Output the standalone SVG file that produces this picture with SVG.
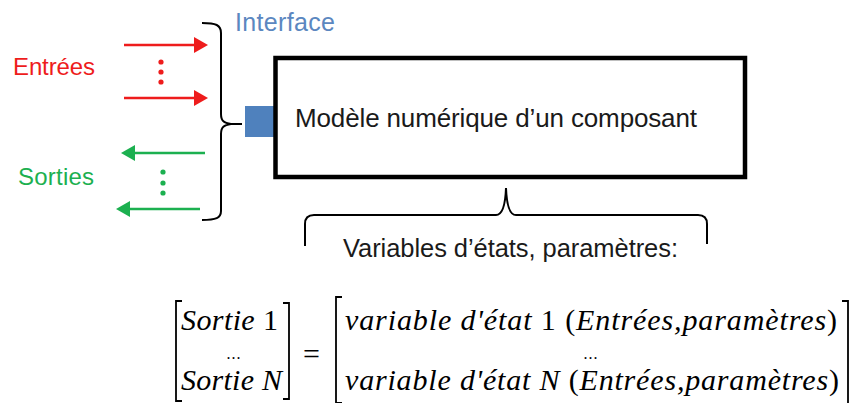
<svg xmlns="http://www.w3.org/2000/svg" width="851" height="403" viewBox="0 0 851 403">
  <defs>
    <style>
      .sans { font-family: "Liberation Sans", Arial, sans-serif; }
      .math { font-family: "Liberation Serif", "Times New Roman", serif; font-style: italic; font-size: 30px; fill: #000; }
      .up { font-style: normal; }
      .dots { font-family: "Liberation Serif", "Times New Roman", serif; font-size: 16px; letter-spacing: 1px; fill: #000; }
      .brace { fill: none; stroke: #000; stroke-width: 2; }
      .bracket { fill: none; stroke: #000; stroke-width: 1.8; }
      .red { stroke: #ee1c1c; stroke-width: 2.5; }
      .green { stroke: #1cb050; stroke-width: 2.5; }
    </style>
    <marker id="ah-red" markerWidth="14" markerHeight="16" refX="1" refY="8" orient="auto" markerUnits="userSpaceOnUse">
      <path d="M0,0 L14,8 L0,16 Z" fill="#ee1c1c"/>
    </marker>
    <marker id="ah-green" markerWidth="14" markerHeight="16" refX="1" refY="8" orient="auto" markerUnits="userSpaceOnUse">
      <path d="M0,0 L14,8 L0,16 Z" fill="#1cb050"/>
    </marker>
  </defs>
  <rect width="851" height="403" fill="#fff"/>

  <g id="labels">
    <text class="sans" x="13" y="75" font-size="24" fill="#ee1c1c" textLength="82">Entrées</text>
    <text class="sans" x="18" y="185" font-size="24" fill="#1cb050" textLength="76">Sorties</text>
    <text class="sans" x="235" y="31" font-size="25" fill="#5b87c0" textLength="100">Interface</text>
  </g>

  <g id="connectors">
    <line class="red" x1="124" y1="45" x2="195" y2="45" marker-end="url(#ah-red)"/>
    <line class="red" x1="124" y1="98" x2="195" y2="98" marker-end="url(#ah-red)"/>
    <line class="green" x1="205" y1="153" x2="134" y2="153" marker-end="url(#ah-green)"/>
    <line class="green" x1="200" y1="209" x2="129" y2="209" marker-end="url(#ah-green)"/>
    <g fill="#ee1c1c">
      <circle cx="161" cy="62" r="2.6"/>
      <circle cx="161" cy="72" r="2.6"/>
      <circle cx="161" cy="82" r="2.6"/>
    </g>
    <g fill="#1cb050">
      <circle cx="163" cy="172" r="2.6"/>
      <circle cx="163" cy="183" r="2.6"/>
      <circle cx="163" cy="193" r="2.6"/>
    </g>
  </g>

  <g id="interface-brace">
    <path class="brace" d="M202,23 C216,23 221,25 221,33 L221,114 C221,121 224,123 231,124 L242,124 M231,124 C224,125 221,127 221,134 L221,211 C221,218 216,220 202,220"/>
  </g>

  <g id="interface-port">
    <rect x="245" y="106" width="30" height="31" fill="#4f81bd"/>
  </g>

  <g id="model">
    <rect x="275.5" y="58" width="469.5" height="119" fill="none" stroke="#000" stroke-width="4.5"/>
    <text class="sans" x="295" y="127" font-size="26" fill="#1a1a1a" textLength="402">Modèle numérique d’un composant</text>
  </g>

  <g id="state-brace">
    <path class="brace" d="M305,246 L305,224 Q305,215 314,215 L496,215 Q505,215 506,188 Q507,215 516,215 L698,215 Q707,215 707,224 L707,244"/>
    <text class="sans" x="343" y="257" font-size="25.5" fill="#1a1a1a" textLength="335">Variables d’états, paramètres:</text>
  </g>

  <g id="equation">
    <path class="bracket" d="M182,301 L176,301 L176,401 L182,401"/>
    <path class="bracket" d="M283,303 L289,303 L289,399 L283,399"/>
    <text class="math" x="181" y="330" textLength="97">Sortie <tspan class="up">1</tspan></text>
    <text class="dots" x="234" y="359" text-anchor="middle">...</text>
    <text class="math" x="181" y="390" textLength="101">Sortie N</text>
    <text class="math up" x="303" y="364" font-size="32">=</text>
    <path class="bracket" d="M342,297 L336,297 L336,405 M336,403 L342,403"/>
    <path class="bracket" d="M842,301 L848,301 L848,405"/>
    <text class="math" x="345" y="330" textLength="492">variable d'état <tspan class="up">1 (</tspan>Entrées,paramètres<tspan class="up">)</tspan></text>
    <text class="dots" x="591" y="359" text-anchor="middle">...</text>
    <text class="math" x="345" y="390" textLength="494">variable d'état N <tspan class="up">(</tspan>Entrées,paramètres<tspan class="up">)</tspan></text>
  </g>
</svg>
